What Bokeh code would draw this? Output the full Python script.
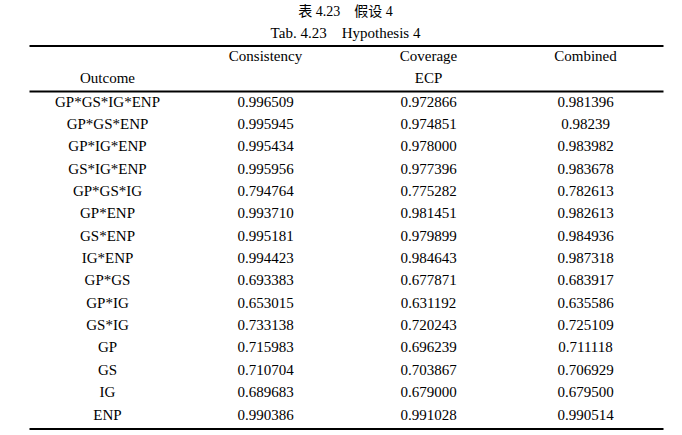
from bokeh.plotting import figure
from bokeh.models import Range1d, ColumnDataSource
from bokeh.core.properties import value
from bokeh.embed import file_html
from bokeh.resources import INLINE

title_cn = "表 4.23　假设 4"
title_en = "Tab. 4.23　Hypothesis 4"
header_top = ["Consistency", "Coverage", "Combined"]
header_bottom = ["Outcome", "ECP"]

outcomes = ["GP*GS*IG*ENP", "GP*GS*ENP", "GP*IG*ENP", "GS*IG*ENP", "GP*GS*IG",
            "GP*ENP", "GS*ENP", "IG*ENP", "GP*GS", "GP*IG", "GS*IG",
            "GP", "GS", "IG", "ENP"]
consistency = ["0.996509", "0.995945", "0.995434", "0.995956", "0.794764",
               "0.993710", "0.995181", "0.994423", "0.693383", "0.653015",
               "0.733138", "0.715983", "0.710704", "0.689683", "0.990386"]
coverage = ["0.972866", "0.974851", "0.978000", "0.977396", "0.775282",
            "0.981451", "0.979899", "0.984643", "0.677871", "0.631192",
            "0.720243", "0.696239", "0.703867", "0.679000", "0.991028"]
combined = ["0.981396", "0.98239", "0.983982", "0.983678", "0.782613",
            "0.982613", "0.984936", "0.987318", "0.683917", "0.635586",
            "0.725109", "0.711118", "0.706929", "0.679500", "0.990514"]

W, H = 670, 435
p = figure(width=W, height=H, output_backend="svg", toolbar_location=None,
           x_range=Range1d(0, W), y_range=Range1d(H, 0),
           x_axis_location=None, y_axis_location=None, min_border=0)
p.grid.visible = False
p.outline_line_color = None
p.background_fill_color = "white"
p.border_fill_color = "white"

FONT = value("Liberation Serif")
FS = "15px"

col_x = [107, 265, 428, 585]
row0, dy = 101.0, 22.36

xs, ys, ts = [], [], []
for i in range(len(outcomes)):
    y = row0 + i * dy
    for cx, col in zip(col_x, [outcomes, consistency, coverage, combined]):
        xs.append(cx)
        ys.append(y)
        ts.append(col[i])

# headers
for cx, t in zip(col_x[1:], header_top):
    xs.append(cx); ys.append(55); ts.append(t)
xs += [col_x[0], col_x[2]]
ys += [77, 77]
ts += header_bottom

src = ColumnDataSource(dict(x=xs, y=ys, text=ts))
p.text(x="x", y="y", text="text", source=src, text_align="center",
       text_baseline="middle", text_font=FONT, text_font_size=FS,
       text_color="black")

p.text(x=[345], y=[11], text=[title_cn], text_align="center",
       text_baseline="middle",
       text_font=value("Liberation Serif, 'Noto Sans CJK SC'"),
       text_font_size="14px", text_color="black")
p.text(x=[345], y=[32], text=[title_en], text_align="center",
       text_baseline="middle", text_font=FONT, text_font_size=FS,
       text_color="black")

p.segment(x0=[29, 29, 29], x1=[663, 663, 663], y0=[45.5, 91, 428.5],
          y1=[45.5, 91, 428.5], line_color="black", line_width=2)

open("out.html", "w").write(file_html(p, INLINE))
